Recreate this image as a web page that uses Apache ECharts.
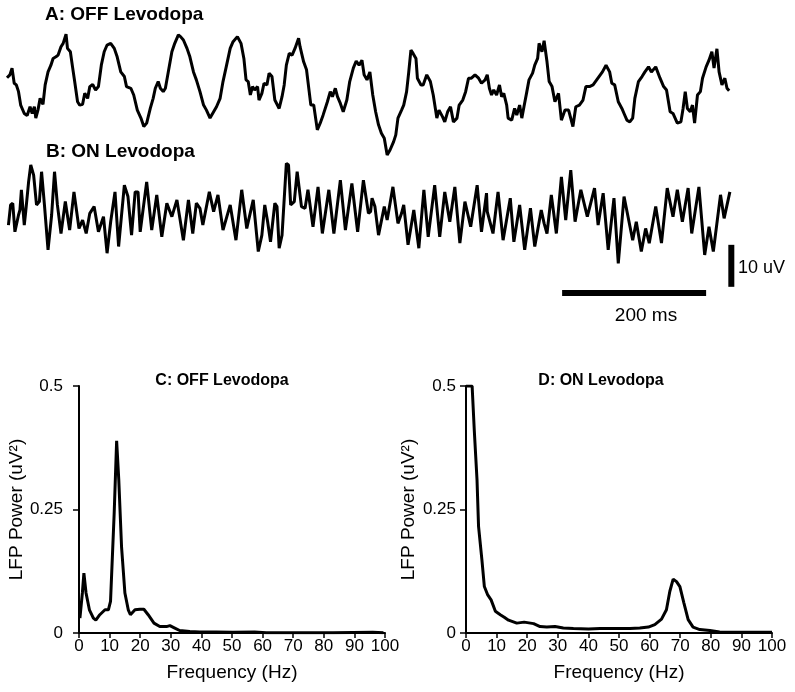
<!DOCTYPE html>
<html>
<head>
<meta charset="utf-8">
<script src="https://cdn.jsdelivr.net/npm/echarts@6/dist/echarts.min.js"></script>
<style>html,body{margin:0;padding:0;background:#fff;}#c{width:795px;height:692px;}</style>
</head>
<body>
<div id="c"></div>
<script>
// Trace A: OFF Levodopa (time in ms, voltage in uV)
const traceATime = [0,4,7,10,13,16,19,24,28,32,35,38,40,43,46,50,53,57,61,64,68,71,75,78,82,84,88,91,94,98,101,105,108,112,115,119,123,127,131,135,139,144,149,153,158,163,166,172,176,181,186,190,194,199,203,206,210,213,217,220,224,229,233,238,241,245,250,254,259,263,268,273,277,282,287,291,296,300,305,310,314,320,325,329,332,335,338,341,344,348,350,354,357,361,364,368,372,378,382,385,388,392,396,400,405,407,412,416,418,422,426,431,435,439,445,449,452,456,459,463,467,472,476,481,485,489,493,496,500,504,508,512,516,520,524,528,532,537,540,543,548,551,555,558,561,564,568,570,575,578,583,588,592,597,600,605,608,612,616,620,625,628,633,637,641,645,650,655,659,664,667,670,673,676,680,684,687,690,694,696,701,705,708,712,715,718,722,725,730,733,737,739,743,746,750,753,757,761,766,770,775,780,786,790,795,800,804,809,814,819,824,827,832,837,840,844,849,854,857,861,865,869,872,877,882,886,891,895,901,907,912,916,921,925,931,936,939,942,945,949,952,955,959,963,966,971,975,979,982,986,989,993,997,1000,1003];
const traceAVolt = [4.1,4.8,6.4,2.8,2.4,0.8,-2.4,-4.4,-4.9,-2.8,-4.4,-2.8,-5.5,-3.6,-0.8,-2.2,2.4,5.5,7.1,8.7,9.1,9.5,11.5,12.3,14.5,11.1,10.3,6.7,3.2,-1.6,-2.4,-2.2,0.4,-0.8,2.0,2.5,1.2,2.0,7.1,10.3,11.9,12.3,11.1,9.1,5.5,4.4,2.0,1.6,0,-3.6,-5.5,-7.5,-6.7,-3.2,-0.8,1.6,3.2,1.6,0.8,1.6,5.5,10.3,12.3,14.3,13.9,13.1,11.1,9.1,5.5,3.6,0.8,-2.4,-3.6,-5.5,-4.0,-2.8,-0.8,3.2,7.1,11.1,12.7,13.9,12.3,8.7,3.6,3.2,0,2.0,1.2,2.0,-1.2,0.4,2.8,2.4,5.2,4.4,-1.2,-3.2,-0.4,2.4,7.1,9.9,9.5,11.1,13.5,11.5,7.9,6.0,3.2,-2.4,-2.4,-8.3,-6.7,-4.8,-1.6,0.8,-0.4,1.6,-0.4,-2.0,-4.0,-1.2,3.2,6.4,8.1,7.1,8.3,4.8,3.6,5.5,0,-4.0,-7.1,-9.1,-10.3,-14.3,-13.1,-11.1,-9.5,-5.5,-3.6,-2.4,0.8,5.5,10.7,9.9,8.7,4.0,2.4,2.4,4.8,3.2,0,-5.5,-3.6,-5.2,-6.4,-4.0,-2.8,-6.4,-5.5,-2.4,-1.2,0.8,4.0,4.0,4.8,4.0,2.8,3.6,4.8,1.6,0,1.2,0,2.4,-0.4,0.4,-2.4,-5.5,-6.0,-3.2,-4.8,-2.4,-5.5,-2.8,0.8,3.6,5.2,7.1,8.7,12.3,10.3,12.9,7.9,3.2,2.0,-1.6,0.4,-6.0,-3.6,-3.6,-7.5,-2.8,-2.4,-1.2,2.0,2.0,2.4,3.6,4.8,5.5,7.1,5.5,2.8,2.4,-1.6,-3.2,-4.4,-6.0,-6.4,-5.5,-0.8,3.2,4.4,5.5,6.7,5.5,6.7,4.0,2.0,1.2,-4.0,-4.4,-6.7,-6.4,-3.2,0.8,-3.2,-4.0,-2.4,-6.7,0,0.8,4.0,6.7,8.3,10.3,6.4,11.0,5.5,2.4,4.0,1.6,1.0];

// Trace B: ON Levodopa (time in ms, voltage in uV)
const traceBTime = [2,5,8,11,13,16,18,20,24,26,30,33,37,41,45,48,52,57,62,66,70,75,81,87,93,100,105,110,115,121,127,134,139,144,150,155,163,168,173,178,182,185,194,201,208,215,222,229,236,245,252,258,263,268,272,281,287,293,300,310,318,326,333,335,342,349,354,358,362,366,372,375,378,382,388,391,394,399,403,409,414,418,425,432,438,447,454,463,470,479,487,495,502,505,507,511,516,524,528,536,543,548,551,557,565,572,579,585,594,601,608,615,622,629,636,644,653,659,666,667,675,682,689,699,704,712,719,727,733,742,746,750,756,763,770,776,783,789,797,806,816,821,828,835,843,849,857,869,874,881,887,892,901,909,917,925,931,938,946,951,961,969,975,981,991,996,1004];
const traceBVolt = [-2.4,2.4,2.8,-4.0,-4.4,0,1.2,6.0,-2.4,0.8,7.9,11.9,9.5,2.4,3.2,10.3,2.4,-8.3,0,10.3,2.4,-4.4,3.2,-3.6,5.5,-3.2,-1.2,-4.4,0.4,2.0,-4.0,-0.4,-9.1,-1.6,5.5,-7.5,7.1,4.4,-4.8,5.5,5.5,-4.0,7.9,-3.6,4.8,-5.2,2.8,-0.4,3.6,-6.0,3.6,-4.4,2.8,1.6,-2.4,5.5,0.8,4.8,-3.6,2.4,-6.0,6.0,-3.2,-3.6,3.6,-8.7,-4.8,2.4,-1.6,-6.4,2.8,2.0,-7.9,-4.8,12.3,11.9,2.4,3.2,10.3,2.0,1.6,6.0,-2.8,6.7,-4.4,6.0,-4.4,8.3,-3.6,7.5,-4.0,8.3,0.4,0.8,4.0,2.0,-4.8,2.0,-1.2,6.7,-2.0,0.4,2.4,-7.1,1.2,-7.9,6.0,-5.2,7.1,-5.2,5.5,-1.6,6.7,-6.7,3.2,-2.8,7.1,-4.0,5.2,0.8,-4.4,5.5,-6.0,4.0,-6.4,2.4,-8.3,1.6,-7.5,1.2,-2.0,-4.4,4.8,-4.4,9.1,-1.2,10.7,-1.6,6.0,-0.4,6.4,-2.4,5.2,-8.3,4.0,-11.5,4.4,-6.0,-1.6,-8.7,-3.2,-6.7,2.0,-6.7,6.4,-0.4,6.0,-1.6,6.4,-4.4,6.7,-9.5,-2.8,-8.7,4.8,-0.8,5.5];

// Scale bars (ms / uV)
const scaleBarTime = [771, 971];
const scaleBarTimeLevel = -18.6;
const scaleBarVoltTime = 1006;
const scaleBarVolt = [-7.1, -17.1];

// Spectrum C: OFF Levodopa
const freqC = [0.3,1.1,1.6,2.3,3.4,4.7,5.5,6.8,8.5,9.6,10.3,11.5,12.3,13.0,13.9,15.0,16.1,16.8,18.3,19.9,21.2,22.6,24.5,26.4,28.6,29.7,31.3,32.9,36.2,39.5,44.9,50.3,57.4,61.2,72,83,96,99.5];
const powerC = [0.030,0.081,0.121,0.081,0.047,0.030,0.026,0.037,0.047,0.047,0.064,0.243,0.389,0.310,0.175,0.081,0.047,0.037,0.047,0.048,0.048,0.037,0.020,0.013,0.013,0.015,0.010,0.005,0.003,0.002,0.002,0.0013,0.002,0.0007,0.0007,0.0007,0.0013,0.0007];

// Spectrum D: ON Levodopa
const freqD = [0,2,2.7,3.6,4.1,5.2,6,7.1,8.2,9.6,11.2,12.5,13.9,16.6,19,22.1,24.2,26.4,29.1,31.8,35.1,40,43.8,49.2,53.6,56.8,59.6,61.7,63.9,65.5,66.6,67.7,68.8,69.9,71.2,72.6,74.2,76.4,79.7,82.9,87.3,100];
const powerD = [0.5,0.5,0.411,0.310,0.216,0.148,0.094,0.077,0.067,0.044,0.037,0.032,0.026,0.020,0.022,0.019,0.013,0.012,0.013,0.010,0.009,0.008,0.009,0.009,0.009,0.010,0.012,0.017,0.028,0.047,0.084,0.109,0.104,0.094,0.061,0.027,0.012,0.007,0.005,0.002,0.0013,0.0013];

const freqTicks = {min: 0, max: 100, interval: 10};
const powerTicks = {min: 0, max: 0.5, interval: 0.25};

const zip = (a, b) => a.map((v, i) => [v, b[i]]);
const FONT = 'Liberation Sans, Arial, Helvetica, sans-serif';

const chart = echarts.init(document.getElementById('c'), null, {renderer: 'canvas'});

function traceX(idx) {
  return {gridIndex: idx, type: 'value', min: 0, max: 1015, show: false};
}
function traceY(idx) {
  return {gridIndex: idx, type: 'value', min: -20, max: 20, show: false};
}
function specX(idx) {
  return {
    gridIndex: idx, type: 'value', min: freqTicks.min, max: freqTicks.max, interval: freqTicks.interval,
    name: 'Frequency (Hz)', nameLocation: 'middle', nameGap: 30,
    nameTextStyle: {fontFamily: FONT, fontSize: 19, color: '#000'},
    axisLine: {show: true, onZero: false, lineStyle: {color: '#000', width: 2}},
    axisTick: {show: true, inside: false, length: 5, lineStyle: {color: '#000', width: 1.5}},
    axisLabel: {show: true, margin: 5, fontFamily: FONT, fontSize: 17, color: '#000'},
    splitLine: {show: false}
  };
}
function specY(idx, gap, margin) {
  return {
    gridIndex: idx, type: 'value', min: powerTicks.min, max: powerTicks.max, interval: powerTicks.interval,
    name: 'LFP Power (uV²)', nameLocation: 'middle', nameGap: gap, nameRotate: 90,
    nameTextStyle: {fontFamily: FONT, fontSize: 19, color: '#000'},
    axisLine: {show: true, lineStyle: {color: '#000', width: 2}},
    axisTick: {show: true, inside: false, length: 6, lineStyle: {color: '#000', width: 1.5}},
    axisLabel: {show: true, margin: margin, fontFamily: FONT, fontSize: 17, color: '#000'},
    splitLine: {show: false}
  };
}

const option = {
  animation: false,
  backgroundColor: '#fff',
  grid: [
    {left: 7, top: 11, width: 730.8, height: 168},
    {left: 7, top: 131, width: 730.8, height: 168},
    {left: 79, top: 386, width: 306, height: 247},
    {left: 466, top: 386, width: 306, height: 247}
  ],
  xAxis: [traceX(0), traceX(1), specX(2), specX(3)],
  yAxis: [traceY(0), traceY(1), specY(2, 50, 16), specY(3, 48, 10)],
  series: [
    {type: 'line', xAxisIndex: 0, yAxisIndex: 0, data: zip(traceATime, traceAVolt), showSymbol: false, symbol: 'none',
     lineStyle: {color: '#000', width: 3}, clip: false},
    {type: 'line', xAxisIndex: 1, yAxisIndex: 1, data: zip(traceBTime, traceBVolt), showSymbol: false, symbol: 'none',
     lineStyle: {color: '#000', width: 3}, clip: false},
    {type: 'line', xAxisIndex: 1, yAxisIndex: 1, data: scaleBarTime.map(t => [t, scaleBarTimeLevel]), showSymbol: false, symbol: 'none',
     lineStyle: {color: '#000', width: 6, cap: 'butt'}, clip: false},
    {type: 'line', xAxisIndex: 1, yAxisIndex: 1, data: scaleBarVolt.map(v => [scaleBarVoltTime, v]), showSymbol: false, symbol: 'none',
     lineStyle: {color: '#000', width: 6, cap: 'butt'}, clip: false},
    {type: 'line', xAxisIndex: 2, yAxisIndex: 2, data: zip(freqC, powerC), showSymbol: false, symbol: 'none',
     lineStyle: {color: '#000', width: 3}},
    {type: 'line', xAxisIndex: 3, yAxisIndex: 3, data: zip(freqD, powerD), showSymbol: false, symbol: 'none',
     lineStyle: {color: '#000', width: 3}}
  ],
  graphic: [
    {type: 'text', left: 45, top: 5, style: {text: 'A: OFF Levodopa', font: 'bold 19px ' + FONT, fill: '#000'}},
    {type: 'text', left: 46, top: 142, style: {text: 'B: ON Levodopa', font: 'bold 19px ' + FONT, fill: '#000'}},
    {type: 'text', x: 646, y: 316, style: {text: '200 ms', font: '19px ' + FONT, fill: '#000', align: 'center', verticalAlign: 'middle'}},
    {type: 'text', x: 738, y: 268, style: {text: '10 uV', font: '18px ' + FONT, fill: '#000', align: 'left', verticalAlign: 'middle'}},
    {type: 'text', x: 222, y: 381, style: {text: 'C: OFF Levodopa', font: 'bold 16px ' + FONT, fill: '#000', align: 'center', verticalAlign: 'middle'}},
    {type: 'text', x: 601, y: 381, style: {text: 'D: ON Levodopa', font: 'bold 16px ' + FONT, fill: '#000', align: 'center', verticalAlign: 'middle'}}
  ]
};
chart.setOption(option);
</script>
</body>
</html>
